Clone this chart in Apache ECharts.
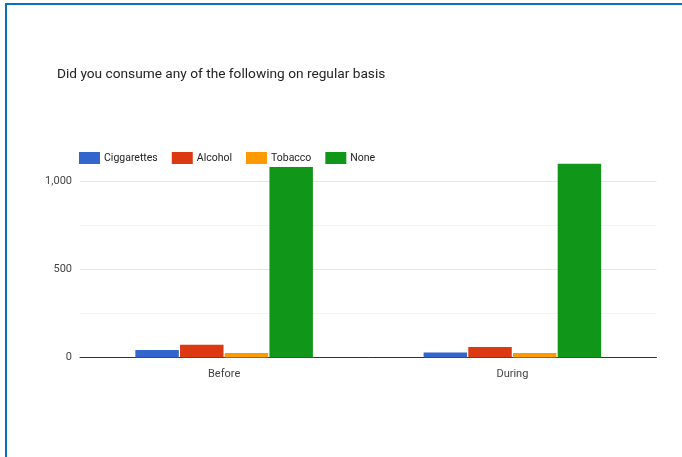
<!DOCTYPE html>
<html>
<head>
<meta charset="utf-8">
<style>
  html, body { margin: 0; padding: 0; background: #fff; }
  #chart { width: 682px; height: 457px; }
</style>
<script src="https://cdn.jsdelivr.net/npm/echarts@6/dist/echarts.min.js"></script>
</head>
<body>
<div id="chart"></div>
<script>
const titleText = 'Did you consume any of the following on regular basis';
const categories = ['Before', 'During'];
const seriesNames = ['Ciggarettes', 'Alcohol', 'Tobacco', 'None'];
const ciggarettes = [43, 28];
const alcohol = [72, 60];
const tobacco = [25, 26];
const none = [1083, 1102];
const colors = ['#3366cc', '#dc3912', '#ff9900', '#109618'];

const seriesData = [ciggarettes, alcohol, tobacco, none];

const chart = echarts.init(document.getElementById('chart'), null, { renderer: 'canvas' });
chart.setOption({
  animation: false,
  backgroundColor: '#ffffff',
  color: colors,
  title: {
    text: titleText,
    left: 57,
    top: 67.5,
    padding: 0,
    textStyle: { fontFamily: 'Roboto', fontSize: 13.7, fontWeight: 'normal', color: '#222222' }
  },
  legend: {
    data: seriesNames,
    left: 79,
    top: 152,
    padding: 0,
    itemWidth: 21,
    itemHeight: 12,
    itemGap: 14,
    icon: 'rect',
    textStyle: { fontFamily: 'Roboto', fontSize: 10.5, color: '#222222', padding: [0, 0, 0, -1] }
  },
  grid: { left: 80, right: 25.5, top: 137.7, bottom: 99.5, containLabel: false },
  xAxis: {
    type: 'category',
    data: categories,
    axisLine: { lineStyle: { color: '#333333', width: 1 } },
    axisTick: { show: false },
    axisLabel: { fontFamily: 'Roboto', fontSize: 11, color: '#444444', margin: 11 }
  },
  yAxis: {
    type: 'value',
    min: 0,
    max: 1250,
    interval: 250,
    axisLine: { show: false },
    axisTick: { show: false },
    splitLine: {
      showMaxLine: false,
      lineStyle: { color: ['#cccccc', '#f3f3f3', '#e5e5e5', '#f3f3f3', '#e5e5e5'], width: 1 }
    },
    axisLabel: {
      fontFamily: 'Roboto', fontSize: 11, color: '#444444', margin: 8,
      formatter: v => (v % 500 === 0 ? v.toLocaleString('en-US') : '')
    }
  },
  graphic: [
    { type: 'rect', shape: { x: 5, y: 3, width: 677, height: 2 }, style: { fill: '#0a6fc2' }, silent: true },
    { type: 'rect', shape: { x: 5, y: 3, width: 2, height: 454 }, style: { fill: '#0a6fc2' }, silent: true }
  ],
  series: seriesNames.map((name, i) => ({
    name: name,
    type: 'bar',
    data: seriesData[i],
    barGap: '2.8%',
    barCategoryGap: '38.4%',
    itemStyle: { color: colors[i] }
  }))
});
</script>
</body>
</html>
